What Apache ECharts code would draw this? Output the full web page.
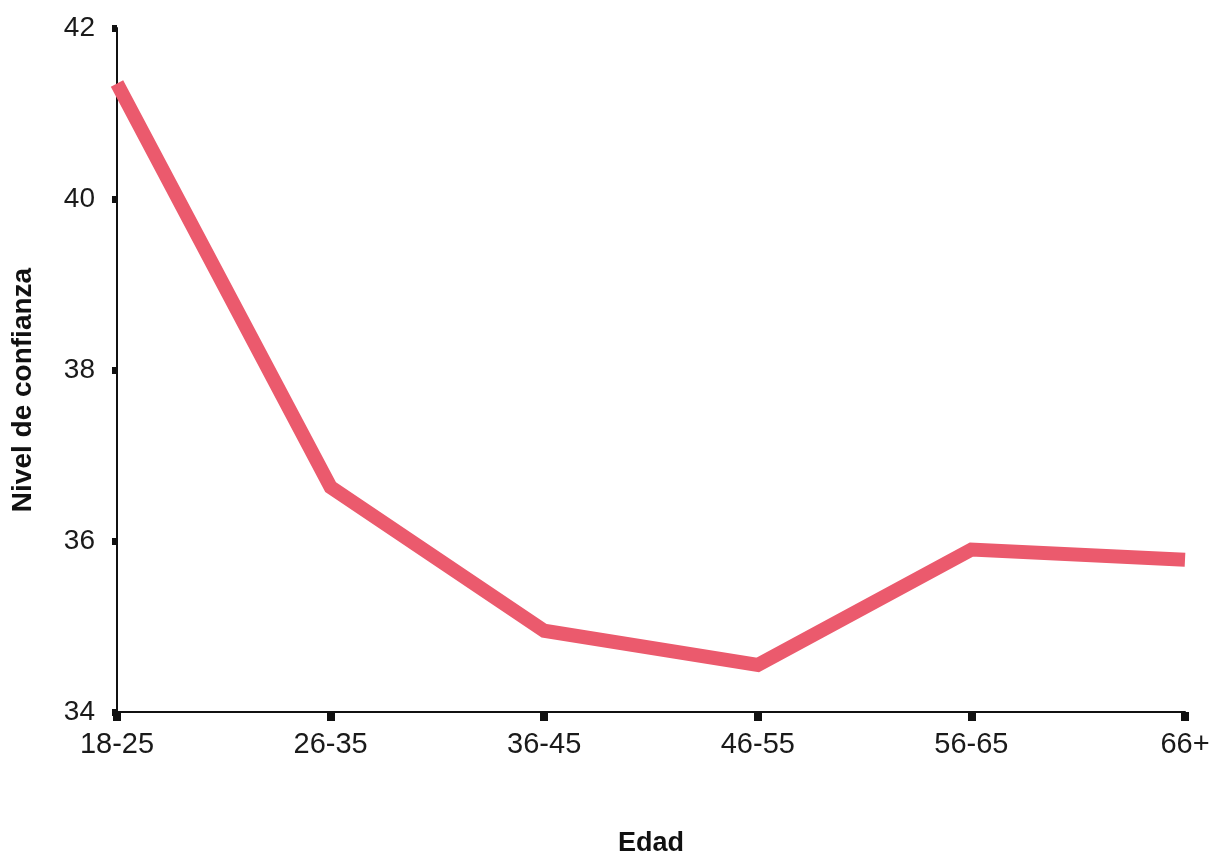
<!DOCTYPE html>
<html>
<head>
<meta charset="utf-8">
<script src="https://cdn.jsdelivr.net/npm/echarts@6/dist/echarts.min.js"></script>
<style>
html,body{margin:0;padding:0;background:#fff;}
#chart{width:1212px;height:856px;}
</style>
</head>
<body>
<div id="chart"></div>
<script>
const categories = ['18-25', '26-35', '36-45', '46-55', '56-65', '66+'];
const confianza = [41.35, 36.63, 34.95, 34.55, 35.9, 35.78];
const yTicks = [34, 36, 38, 40, 42];

const chart = echarts.init(document.getElementById('chart'));
chart.setOption({
  animation: false,
  backgroundColor: '#ffffff',
  grid: { left: 117, right: 27, top: 28, bottom: 144, containLabel: false, outerBoundsMode: 'none' },
  xAxis: {
    type: 'category',
    data: categories,
    boundaryGap: false,
    name: 'Edad',
    nameLocation: 'middle',
    nameGap: 118,
    nameTextStyle: { fontFamily: 'Liberation Sans, Arial, sans-serif', fontWeight: 'bold', fontSize: 27, color: '#111' },
    axisLine: { show: true, lineStyle: { color: '#111', width: 2 } },
    axisTick: { show: true, alignWithLabel: true, length: 9, lineStyle: { color: '#111', width: 8 } },
    axisLabel: { fontFamily: 'Liberation Sans, Arial, sans-serif', fontSize: 29, color: '#1a1a1a', margin: 18 },
    splitLine: { show: false }
  },
  yAxis: {
    type: 'value',
    min: yTicks[0],
    max: yTicks[yTicks.length - 1],
    interval: 2,
    name: 'Nivel de confianza',
    nameLocation: 'middle',
    nameGap: 80,
    nameRotate: 90,
    nameTextStyle: { fontFamily: 'Liberation Sans, Arial, sans-serif', fontWeight: 'bold', fontSize: 28, color: '#111', padding: [0, 40, 0, 0] },
    axisLine: { show: true, lineStyle: { color: '#111', width: 2 } },
    axisTick: { show: true, length: 5, lineStyle: { color: '#111', width: 7 } },
    axisLabel: { fontFamily: 'Liberation Sans, Arial, sans-serif', fontSize: 28, color: '#1a1a1a', margin: 22 },
    splitLine: { show: false }
  },
  series: [{
    type: 'line',
    data: confianza,
    showSymbol: false,
    symbol: 'none',
    lineStyle: { color: '#EB5A6D', width: 14, join: 'miter' },
    z: 1
  }]
});
</script>
</body>
</html>
